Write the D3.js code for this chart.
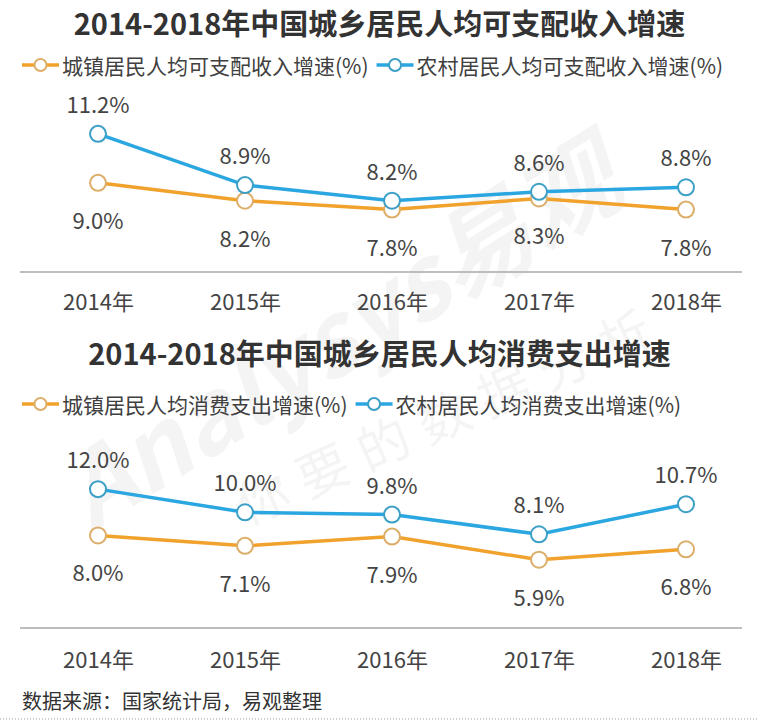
<!DOCTYPE html>
<html lang="zh">
<head>
<meta charset="UTF-8">
<title>2014-2018年中国城乡居民人均收入与消费增速</title>
<script src="https://d3js.org/d3.v7.min.js"></script>
<style>
  body { margin: 0; background: #fff; }
  svg { display: block; font-family: "Noto Sans CJK SC", "Noto Sans", sans-serif; }
  .title { font-size: 29px; font-weight: 700; fill: #333; }
  .legend text { font-size: 21px; fill: #404040; }
  .label { font-size: 22px; fill: #444; }
  .axis text { font-size: 22px; fill: #444; font-family: "Noto Sans CJK SC", sans-serif; }
</style>
</head>
<body>
<script>
  // 数据
  const years = ["2014年", "2015年", "2016年", "2017年", "2018年"];

  const incomeTitle = "2014-2018年中国城乡居民人均可支配收入增速";
  const incomeNames = ["城镇居民人均可支配收入增速(%)", "农村居民人均可支配收入增速(%)"];
  const incomeUrban = [9.0, 8.2, 7.8, 8.3, 7.8];
  const incomeRural = [11.2, 8.9, 8.2, 8.6, 8.8];

  const spendTitle = "2014-2018年中国城乡居民人均消费支出增速";
  const spendNames = ["城镇居民人均消费支出增速(%)", "农村居民人均消费支出增速(%)"];
  const spendUrban = [8.0, 7.1, 7.9, 5.9, 6.8];
  const spendRural = [12.0, 10.0, 9.8, 8.1, 10.7];

  const source = "数据来源：国家统计局，易观整理";

  const orange = "#f0a22c", orangeRing = "#dcae6a";
  const blue = "#2aa6e0", blueRing = "#3b9fc6";

  const W = 759, H = 721;
  const svg = d3.select("body").append("svg")
      .attr("width", W).attr("height", H);

  svg.append("rect").attr("width", W).attr("height", H).attr("fill", "#fff");

  // 水印
  const wm = svg.append("g").attr("pointer-events", "none");
  wm.append("text")
      .attr("transform", "translate(360,365) rotate(-32)")
      .attr("text-anchor", "middle")
      .attr("font-size", 100).attr("font-weight", 700).attr("font-style", "italic")
      .attr("fill", "#000").attr("fill-opacity", 0.045)
      .text("Analysys易观");
  wm.append("text")
      .attr("transform", "translate(458,432) rotate(-24)")
      .attr("text-anchor", "middle")
      .attr("font-size", 52).attr("letter-spacing", 14)
      .attr("fill", "#000").attr("fill-opacity", 0.045)
      .text("你要的数据分析");

  const x = d3.scalePoint().domain(years).range([98, 686]);

  /* 画一个折线图面板 */
  function panel(opt) {
      const g = svg.append("g");

      g.append("text").attr("class", "title")
          .attr("x", W / 2).attr("y", opt.titleY)
          .attr("text-anchor", "middle").attr("dominant-baseline", "central")
          .text(opt.title);

      const y = d3.scaleLinear().domain(opt.domain).range(opt.range);

      // 图例
      const lg = g.append("g").attr("class", "legend");
      let lx = 22;
      [[opt.names[0], orange, orangeRing], [opt.names[1], blue, blueRing]].forEach(([name, c, ring]) => {
          const item = lg.append("g").attr("transform", `translate(${lx},${opt.legendY})`);
          item.append("line").attr("x1", 0).attr("x2", 37)
              .attr("stroke", c).attr("stroke-width", 3.5);
          item.append("circle").attr("cx", 18.5).attr("r", 6)
              .attr("fill", "#fff").attr("stroke", ring).attr("stroke-width", 2);
          const t = item.append("text").attr("x", 40).attr("dominant-baseline", "central").text(name);
          lx += 40 + t.node().getComputedTextLength() + 8;
      });

      // 坐标轴
      g.append("line")
          .attr("x1", 20).attr("x2", 742)
          .attr("y1", y(opt.domain[0])).attr("y2", y(opt.domain[0]))
          .attr("stroke", "#bdbdbd").attr("stroke-width", 2);

      const axis = g.append("g").attr("class", "axis")
          .attr("transform", `translate(0,${y(opt.domain[0])})`)
          .call(d3.axisBottom(x).tickSize(0).tickPadding(opt.tickPad));
      axis.select(".domain").remove();
      axis.selectAll("text").attr("dy", "0.71em");

      const line = d3.line().x((d, i) => x(years[i])).y(d => y(d));

      [[opt.urban, orange, orangeRing, 36], [opt.rural, blue, blueRing, -31]].forEach(([vals, c, ring, off]) => {
          g.append("path").datum(vals)
              .attr("d", line).attr("fill", "none")
              .attr("stroke", c).attr("stroke-width", 3.5);
          g.selectAll(null).data(vals).enter().append("circle")
              .attr("cx", (d, i) => x(years[i])).attr("cy", d => y(d)).attr("r", 8)
              .attr("fill", "#fff").attr("stroke", ring).attr("stroke-width", 2);
          g.selectAll(null).data(vals).enter().append("text")
              .attr("class", "label")
              .attr("x", (d, i) => x(years[i])).attr("y", d => y(d) + off)
              .attr("text-anchor", "middle").attr("dominant-baseline", "central")
              .text(d => d.toFixed(1) + "%");
      });
  }

  panel({
      title: incomeTitle, titleY: 22, legendY: 65, names: incomeNames,
      urban: incomeUrban, rural: incomeRural,
      domain: [5, 12], range: [272, 116], tickPad: 22
  });

  panel({
      title: spendTitle, titleY: 352, legendY: 404, names: spendNames,
      urban: spendUrban, rural: spendRural,
      domain: [0, 14], range: [628, 466], tickPad: 24
  });

  svg.append("text")
      .attr("x", 22).attr("y", 700)
      .attr("dominant-baseline", "central")
      .attr("font-size", 20).attr("fill", "#333")
      .text(source);

  svg.append("line")
      .attr("x1", 0).attr("x2", W).attr("y1", 719).attr("y2", 719)
      .attr("stroke", "#999").attr("stroke-width", 1).attr("stroke-dasharray", "1,2");
</script>
</body>
</html>
